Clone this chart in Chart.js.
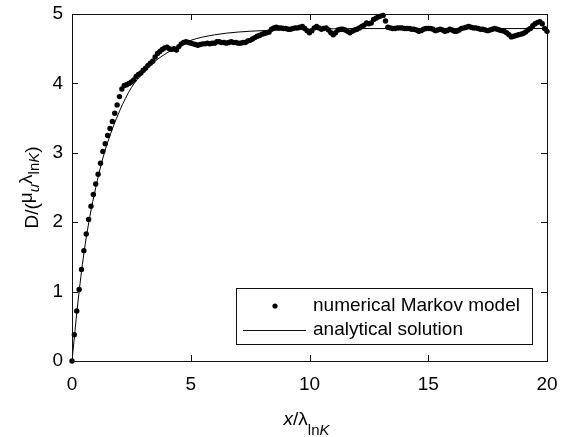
<!DOCTYPE html>
<html>
<head>
<meta charset="utf-8">
<script src="https://cdn.jsdelivr.net/npm/chart.js@4.4.1/dist/chart.umd.min.js"></script>
<style>
  body { margin: 0; background: #fff; }
  canvas { display: block; }
</style>
</head>
<body>
<canvas id="myChart" width="561" height="437"></canvas>
<script>
// numerical Markov model, one value every 0.1 in x (rows of 10 = one unit)
const numericalStep = 0.1;
const numericalValues = [
  0, 0.38, 0.72, 1.03, 1.32, 1.59, 1.83, 2.04, 2.23, 2.40,
  2.55, 2.69, 2.85, 3.02, 3.13, 3.25, 3.35, 3.45, 3.57, 3.69,
  3.81, 3.92, 3.97, 3.98, 4.00, 4.02, 4.05, 4.10, 4.13, 4.15,
  4.19, 4.22, 4.26, 4.29, 4.32, 4.38, 4.43, 4.46, 4.49, 4.51,
  4.52, 4.50, 4.49, 4.50, 4.48, 4.53, 4.57, 4.59, 4.60, 4.59,
  4.58, 4.57, 4.56, 4.55, 4.56, 4.57, 4.57, 4.58, 4.57, 4.58,
  4.58, 4.60, 4.60, 4.59, 4.59, 4.58, 4.59, 4.60, 4.59, 4.59,
  4.58, 4.58, 4.59, 4.59, 4.61, 4.62, 4.64, 4.66, 4.68, 4.69,
  4.71, 4.72, 4.73, 4.74, 4.78, 4.80, 4.81, 4.80, 4.80, 4.79,
  4.79, 4.78, 4.78, 4.79, 4.80, 4.80, 4.81, 4.82, 4.79, 4.76,
  4.73, 4.76, 4.80, 4.82, 4.80, 4.78, 4.79, 4.80, 4.77, 4.73,
  4.70, 4.73, 4.77, 4.78, 4.78, 4.77, 4.75, 4.73, 4.75, 4.77,
  4.78, 4.80, 4.82, 4.84, 4.87, 4.86, 4.87, 4.92, 4.94, 4.96,
  4.97, 4.98, 4.90, 4.81, 4.80, 4.79, 4.79, 4.80, 4.80, 4.80,
  4.79, 4.79, 4.79, 4.78, 4.78, 4.77, 4.75, 4.76, 4.78, 4.79,
  4.79, 4.79, 4.78, 4.76, 4.77, 4.78, 4.77, 4.75, 4.76, 4.78,
  4.77, 4.75, 4.75, 4.77, 4.79, 4.80, 4.81, 4.82, 4.81, 4.80,
  4.80, 4.79, 4.78, 4.78, 4.77, 4.76, 4.77, 4.78, 4.79, 4.78,
  4.77, 4.76, 4.75, 4.73, 4.70, 4.67, 4.68, 4.69, 4.70, 4.71,
  4.72, 4.74, 4.77, 4.79, 4.83, 4.86, 4.88, 4.89, 4.86, 4.79,
  4.75
];

// analytical solution
const analyticalX = [0, 0.25, 0.5, 0.75, 1, 1.25, 1.5, 2, 2.5, 3, 3.5, 4, 4.5, 5, 6, 7, 8, 10, 12, 14, 16, 18, 20];
const analyticalY = [0, 0.85, 1.55, 2.08, 2.5, 2.86, 3.15, 3.6, 3.94, 4.15, 4.32, 4.44, 4.54, 4.62, 4.7, 4.74, 4.76, 4.78, 4.79, 4.79, 4.79, 4.79, 4.79];

const xTicks = [0, 5, 10, 15, 20];
const yTicks = [0, 1, 2, 3, 4, 5];
const legendLabels = ['numerical Markov model', 'analytical solution'];

const fontFamily = '"Liberation Sans", Arial, Helvetica, sans-serif';

function drawRich(ctx, parts, x, y) {
  // parts: [text, size, italic, dy]
  let cx = x;
  parts.forEach(p => {
    ctx.font = (p[2] ? 'italic ' : '') + p[1] + 'px ' + fontFamily;
    ctx.fillText(p[0], cx, y + p[3]);
    cx += ctx.measureText(p[0]).width;
  });
  return cx - x;
}

function richWidth(ctx, parts) {
  let w = 0;
  parts.forEach(p => {
    ctx.font = (p[2] ? 'italic ' : '') + p[1] + 'px ' + fontFamily;
    w += ctx.measureText(p[0]).width;
  });
  return w;
}

const framePlugin = {
  id: 'frame',
  beforeDraw(chart) {
    const ctx = chart.ctx;
    ctx.save();
    ctx.fillStyle = '#fff';
    ctx.fillRect(0, 0, chart.width, chart.height);
    ctx.restore();
  },
  afterDraw(chart) {
    const ctx = chart.ctx;
    const a = chart.chartArea;
    const xs = chart.scales.x;
    const ys = chart.scales.y;
    const tick = 6;
    ctx.save();
    ctx.strokeStyle = '#111';
    ctx.lineWidth = 1;
    ctx.strokeRect(Math.round(a.left) + 0.5, Math.round(a.top) + 0.5,
      Math.round(a.right - a.left), Math.round(a.bottom - a.top));
    ctx.beginPath();
    xTicks.forEach(v => {
      const px = Math.round(xs.getPixelForValue(v)) + 0.5;
      ctx.moveTo(px, a.bottom); ctx.lineTo(px, a.bottom - tick);
      ctx.moveTo(px, a.top); ctx.lineTo(px, a.top + tick);
    });
    yTicks.forEach(v => {
      const py = Math.round(ys.getPixelForValue(v)) + 0.5;
      ctx.moveTo(a.left, py); ctx.lineTo(a.left + tick, py);
      ctx.moveTo(a.right, py); ctx.lineTo(a.right - tick, py);
    });
    ctx.stroke();

    // legend
    const lx = 236, ly = 288, lw = 296, lh = 56;
    ctx.fillStyle = '#fff';
    ctx.fillRect(lx, ly, lw, lh);
    ctx.strokeRect(lx + 0.5, ly + 0.5, lw, lh);
    ctx.fillStyle = '#000';
    ctx.beginPath();
    ctx.arc(275, 306, 2.6, 0, Math.PI * 2);
    ctx.fill();
    ctx.beginPath();
    ctx.moveTo(243, 330.5); ctx.lineTo(306, 330.5);
    ctx.stroke();
    ctx.font = '19px ' + fontFamily;
    ctx.textBaseline = 'middle';
    ctx.textAlign = 'left';
    ctx.fillText(legendLabels[0], 313, 306);
    ctx.fillText(legendLabels[1], 313, 330);

    // x axis title: x/λ_lnK
    ctx.textBaseline = 'alphabetic';
    const xParts = [['x', 19, true, 0], ['/', 19, false, 0], ['\u03bb', 19, false, 0],
      ['ln', 15, false, 10], ['K', 15, true, 10]];
    const xw = richWidth(ctx, xParts);
    drawRich(ctx, xParts, (a.left + a.right) / 2 - xw / 2 - 3, 425);

    // y axis title: D/(μ_u λ_lnK)
    const yParts = [['D/(', 19, false, 0], ['\u03bc', 19, false, -6], ['u', 15, true, 1],
      ['\u03bb', 19, false, -6], ['ln', 15, false, 1], ['K', 15, true, 1], [')', 19, false, 0]];
    const yw = richWidth(ctx, yParts);
    ctx.translate(38, (a.top + a.bottom) / 2);
    ctx.rotate(-Math.PI / 2);
    drawRich(ctx, yParts, -yw / 2, 0);
    ctx.restore();
  }
};

const chartData = numericalValues.map((v, i) => ({ x: i * numericalStep, y: v }));
const analyticalData = analyticalX.map((x, i) => ({ x: x, y: analyticalY[i] }));

new Chart(document.getElementById('myChart'), {
  type: 'scatter',
  data: {
    datasets: [
      {
        label: legendLabels[0],
        data: chartData,
        showLine: false,
        pointRadius: 2.7,
        pointBorderWidth: 0,
        pointBackgroundColor: '#000',
        clip: false
      },
      {
        label: legendLabels[1],
        data: analyticalData,
        showLine: true,
        borderColor: '#000',
        borderWidth: 1,
        pointRadius: 0,
        cubicInterpolationMode: 'monotone'
      }
    ]
  },
  options: {
    responsive: false,
    animation: false,
    devicePixelRatio: 1,
    layout: { padding: { left: 0, right: 14, top: 14, bottom: 0 } },
    plugins: {
      legend: { display: false },
      tooltip: { enabled: false }
    },
    scales: {
      x: {
        type: 'linear',
        min: 0,
        max: 20,
        afterFit: (scale) => { scale.height = 76; scale.paddingLeft = 0; scale.paddingRight = 0; },
        afterBuildTicks: (scale) => { scale.ticks = xTicks.map(v => ({ value: v })); },
        ticks: { color: '#000', padding: 12, font: { size: 19, family: fontFamily } },
        grid: { display: false, drawTicks: false },
        border: { display: false }
      },
      y: {
        type: 'linear',
        min: 0,
        max: 5,
        afterFit: (scale) => { scale.width = 72; scale.paddingTop = 0; scale.paddingBottom = 0; },
        afterBuildTicks: (scale) => { scale.ticks = yTicks.map(v => ({ value: v })); },
        ticks: { color: '#000', padding: 9, font: { size: 19, family: fontFamily } },
        grid: { display: false, drawTicks: false },
        border: { display: false }
      }
    }
  },
  plugins: [framePlugin]
});
</script>
</body>
</html>
